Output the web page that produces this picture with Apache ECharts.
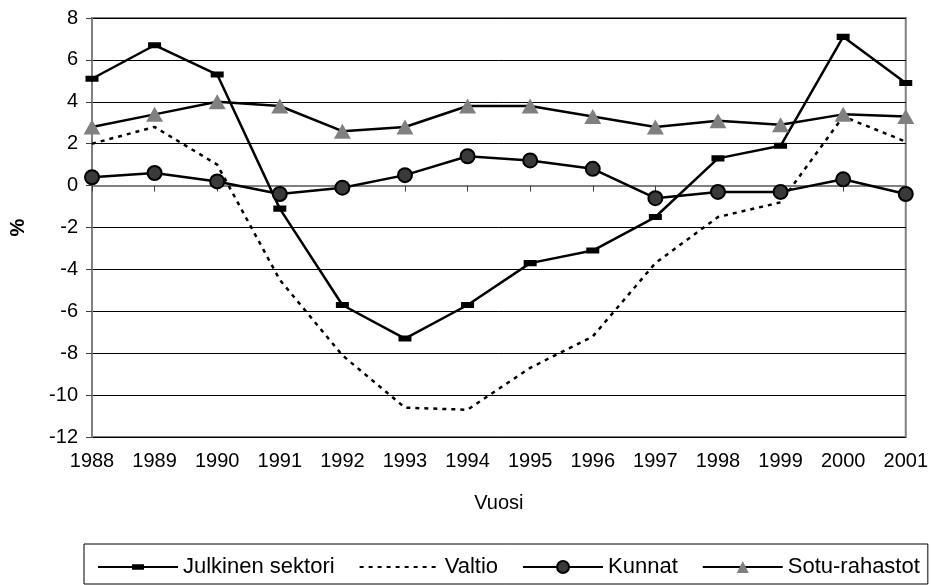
<!DOCTYPE html>
<html>
<head>
<meta charset="utf-8">
<script src="https://cdn.jsdelivr.net/npm/echarts@6/dist/echarts.min.js"></script>
<style>html,body{margin:0;padding:0;background:#fff}#c{width:931px;height:585px}</style>
</head>
<body>
<div id="c"></div>
<script>
var years = ['1988','1989','1990','1991','1992','1993','1994','1995','1996','1997','1998','1999','2000','2001'];
var julkinen = [5.1, 6.7, 5.3, -1.1, -5.7, -7.3, -5.7, -3.7, -3.1, -1.5, 1.3, 1.9, 7.1, 4.9];
var valtio   = [2.0, 2.8, 1.0, -4.5, -8.1, -10.6, -10.7, -8.7, -7.2, -3.7, -1.5, -0.8, 3.3, 2.1];
var kunnat   = [0.4, 0.6, 0.2, -0.4, -0.1, 0.5, 1.4, 1.2, 0.8, -0.6, -0.3, -0.3, 0.3, -0.4];
var sotu     = [2.8, 3.4, 4.0, 3.8, 2.6, 2.8, 3.8, 3.8, 3.3, 2.8, 3.1, 2.9, 3.4, 3.3];
var names = ['Julkinen sektori', 'Valtio', 'Kunnat', 'Sotu-rahastot'];
var yMin = -12, yMax = 8, yStep = 2;

var FONT = "'Liberation Sans', Arial, sans-serif";
// bar-shaped marker inside a square bounding box (degenerate edges keep the box square)
var BAR_SYMBOL = 'path://M0,0 h12 v0 h-12 z M0,3.2 h12 v5.6 h-12 z M0,12 h12 v0 h-12 z';
var chart = echarts.init(document.getElementById('c'), null, {renderer: 'canvas'});
chart.setOption({
  animation: false,
  backgroundColor: '#fff',
  textStyle: {fontFamily: FONT, color: '#000'},
  grid: {left: 87, right: 24, top: 18, bottom: 148, show: true, borderColor: '#808080', borderWidth: 2, backgroundColor: 'transparent'},
  legend: {
    left: 84, top: 544,
    padding: [12, 8, 6, 13],
    itemWidth: 80, itemHeight: 15, itemGap: 24,
    borderColor: '#000', borderWidth: 1,
    textStyle: {fontSize: 22, fontFamily: FONT, color: '#000'},
    data: [
      {name: names[0]},
      {name: names[1], itemStyle: {opacity: 0}},
      {name: names[2]},
      {name: names[3]}
    ]
  },
  xAxis: {
    type: 'category', data: years, boundaryGap: false,
    name: 'Vuosi', nameLocation: 'middle', nameGap: 56,
    nameTextStyle: {fontSize: 20, fontFamily: FONT, color: '#000'},
    axisLine: {lineStyle: {color: '#808080', width: 2}},
    axisTick: {show: true, length: 6, inside: false, lineStyle: {color: '#404040', width: 1}},
    axisLabel: {fontSize: 20, color: '#000', margin: 14, fontFamily: FONT},
    splitLine: {show: false}
  },
  yAxis: {
    type: 'value', min: yMin, max: yMax, interval: yStep,
    name: '%', nameLocation: 'middle', nameGap: 64, nameRotate: 90,
    nameTextStyle: {fontSize: 20, fontWeight: 'bold', fontFamily: FONT, color: '#000'},
    axisLine: {show: true, lineStyle: {color: '#808080', width: 2}},
    axisTick: {show: true, length: 6, lineStyle: {color: '#404040', width: 1}},
    axisLabel: {fontSize: 20, color: '#000', margin: 14, fontFamily: FONT},
    splitLine: {show: true, lineStyle: {color: '#000', width: 1}}
  },
  series: [
    {name: names[0], type: 'line', data: julkinen,
     symbol: BAR_SYMBOL, symbolSize: 13, showAllSymbol: true,
     lineStyle: {color: '#000', width: 2.5}, itemStyle: {color: '#000', borderWidth: 0}},
    {name: names[1], type: 'line', data: valtio, symbol: 'none',
     lineStyle: {color: '#000', width: 2.5, type: [4, 5]}, itemStyle: {color: '#000'}},
    {name: names[2], type: 'line', data: kunnat, symbol: 'circle', symbolSize: 14, showAllSymbol: true,
     lineStyle: {color: '#000', width: 2.5}, itemStyle: {color: '#3a3a3a', borderColor: '#000', borderWidth: 2}},
    {name: names[3], type: 'line', data: sotu, symbol: 'triangle', symbolSize: [17, 15], showAllSymbol: true,
     lineStyle: {color: '#000', width: 2.5}, itemStyle: {color: '#808080', borderWidth: 0}}
  ]
});
</script>
</body>
</html>
